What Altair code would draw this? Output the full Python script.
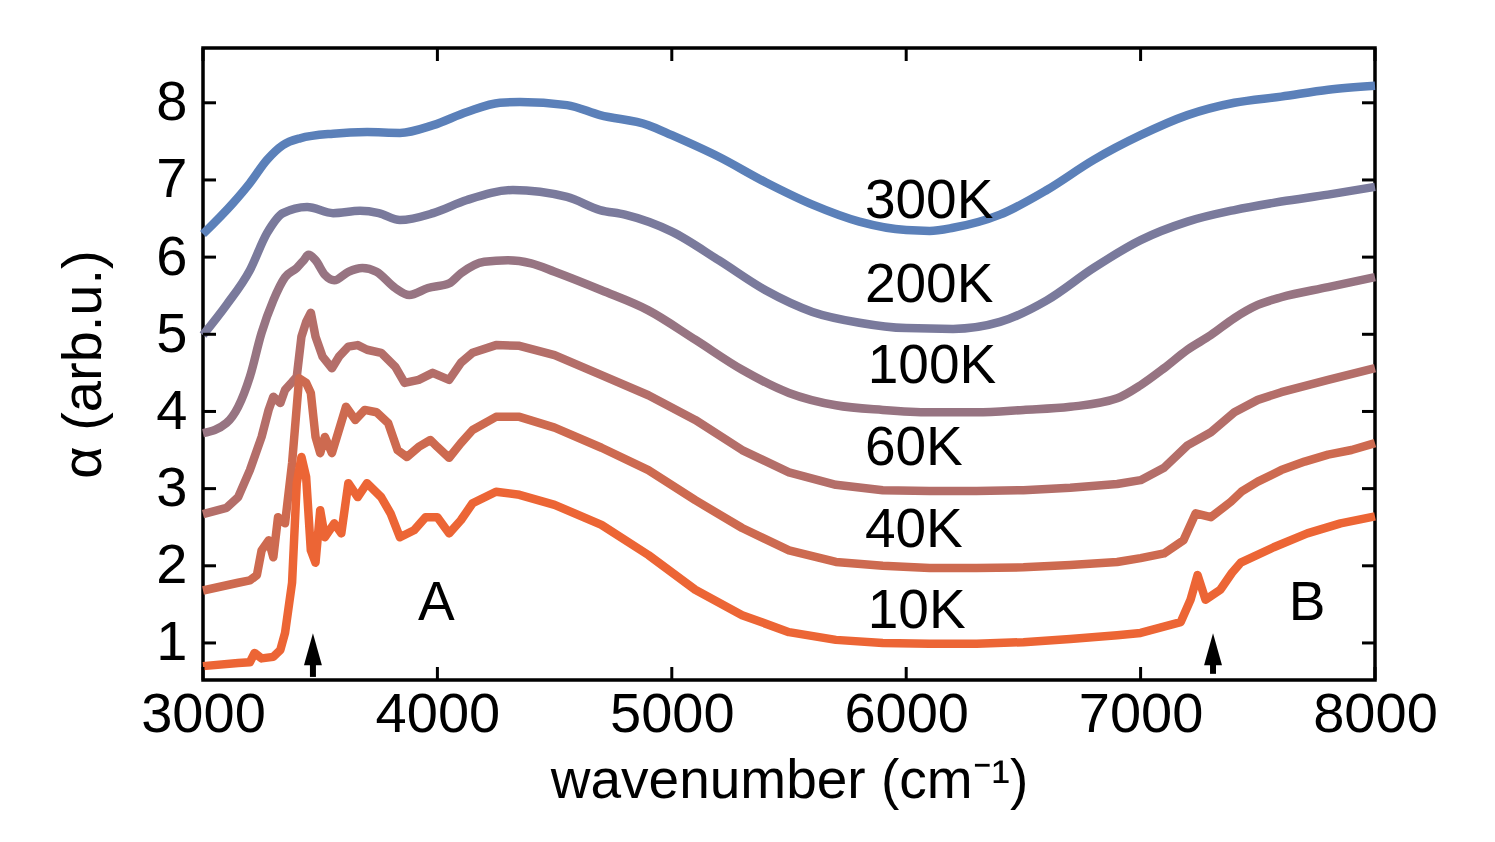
import altair as alt
import pandas as pd

# ---- data ----
series_names = ["300K", "200K", "100K", "60K", "40K", "10K"]
series_colors = ["#5b80b9", "#7a7a9c", "#977482", "#b46e69", "#cd6a50", "#ec6535"]
smooth_series = ["300K", "200K", "100K"]

wn_300 = [3000, 3128, 3200, 3273, 3340, 3414, 3555, 3700, 3840, 3982, 4126, 4267, 4352, 4553, 4694,
          4900, 5000, 5200, 5400, 5600, 5800, 6000, 6100, 6200, 6400, 6600, 6800, 7000, 7200, 7400,
          7600, 7800, 8000]
a_300 = [6.30, 6.70, 6.96, 7.26, 7.45, 7.54, 7.60, 7.62, 7.61, 7.71, 7.88, 8.00, 8.01, 7.97, 7.84,
         7.71, 7.58, 7.30, 6.97, 6.68, 6.46, 6.35, 6.34, 6.38, 6.55, 6.87, 7.26, 7.58, 7.84, 8.00,
         8.08, 8.17, 8.22]

wn_200 = [3000, 3100, 3200, 3273, 3341, 3444, 3555, 3670, 3750, 3840, 3982, 4126, 4322, 4553, 4694,
          4800, 5000, 5200, 5400, 5600, 5800, 6000, 6200, 6400, 6600, 6800, 7000, 7200, 7400, 7600,
          7800, 8000]
a_200 = [4.99, 5.38, 5.83, 6.31, 6.57, 6.65, 6.57, 6.60, 6.57, 6.48, 6.57, 6.74, 6.87, 6.78, 6.61,
         6.55, 6.33, 5.96, 5.57, 5.29, 5.15, 5.08, 5.07, 5.16, 5.44, 5.86, 6.22, 6.46, 6.61, 6.72,
         6.81, 6.91]

wn_100 = [3000, 3100, 3150, 3200, 3250, 3300, 3350, 3400, 3430, 3450, 3480, 3520, 3560, 3620, 3680,
          3740, 3820, 3880, 3960, 4050, 4100, 4200, 4300, 4400, 4500, 4700, 4900, 5100, 5300, 5500,
          5700, 5900, 6100, 6300, 6500, 6700, 6900, 7000, 7100, 7200, 7300, 7400, 7500, 7600, 7800,
          8000]
a_100 = [3.72, 3.85, 4.06, 4.45, 5.02, 5.44, 5.74, 5.86, 5.96, 6.03, 5.96, 5.77, 5.70, 5.81, 5.86,
         5.81, 5.60, 5.51, 5.60, 5.66, 5.79, 5.94, 5.96, 5.92, 5.81, 5.57, 5.31, 4.93, 4.54, 4.24,
         4.08, 4.02, 3.99, 3.99, 4.02, 4.06, 4.17, 4.34, 4.56, 4.80, 4.99, 5.21, 5.38, 5.48, 5.61,
         5.74]

wn_60 = [3000, 3100, 3150, 3200, 3250, 3280, 3300, 3330, 3350, 3380, 3400, 3420, 3440, 3460, 3480,
         3510, 3550, 3580, 3620, 3660, 3700, 3760, 3820, 3860, 3920, 3980, 4050, 4100, 4150, 4250,
         4350, 4500, 4700, 4900, 5100, 5300, 5500, 5700, 5900, 6100, 6300, 6500, 6700, 6900, 7000,
         7100, 7200, 7300, 7400, 7500, 7600, 7800, 8000]
a_60 = [2.67, 2.75, 2.89, 3.24, 3.67, 4.02, 4.19, 4.11, 4.28, 4.38, 4.45, 4.97, 5.16, 5.28, 4.97,
        4.71, 4.56, 4.71, 4.84, 4.86, 4.80, 4.76, 4.58, 4.37, 4.41, 4.50, 4.41, 4.63, 4.76, 4.86,
        4.85, 4.73, 4.47, 4.21, 3.89, 3.50, 3.21, 3.05, 2.98, 2.97, 2.97, 2.98, 3.01, 3.06, 3.11,
        3.27, 3.56, 3.73, 3.99, 4.15, 4.25, 4.41, 4.56]

wn_40 = [3000, 3150, 3200, 3230, 3250, 3280, 3300, 3320, 3350, 3380, 3410, 3440, 3460, 3480, 3500,
         3520, 3550, 3580, 3610, 3650, 3690, 3740, 3790, 3830, 3870, 3920, 3970, 4000, 4050, 4100,
         4150, 4250, 4350, 4500, 4700, 4900, 5100, 5300, 5500, 5700, 5900, 6100, 6300, 6500, 6700,
         6900, 7000, 7100, 7183, 7235, 7300, 7385, 7430, 7500, 7600, 7700, 7800, 7900, 8000]
a_40 = [1.68, 1.78, 1.81, 1.88, 2.20, 2.33, 2.11, 2.63, 2.55, 3.33, 4.43, 4.37, 4.24, 3.67, 3.46,
        3.67, 3.46, 3.76, 4.06, 3.89, 4.02, 3.99, 3.85, 3.50, 3.41, 3.54, 3.63, 3.54, 3.40, 3.59,
        3.76, 3.93, 3.93, 3.79, 3.53, 3.24, 2.85, 2.49, 2.20, 2.05, 2.00, 1.97, 1.97, 1.98, 2.01,
        2.05, 2.10, 2.16, 2.33, 2.68, 2.63, 2.83, 2.96, 3.09, 3.24, 3.35, 3.44, 3.50, 3.59]

wn_10 = [3000, 3150, 3200, 3220, 3250, 3300, 3330, 3350, 3380, 3400, 3420, 3440, 3460, 3480, 3500,
         3520, 3560, 3590, 3620, 3660, 3700, 3760, 3800, 3840, 3900, 3950, 4000, 4050, 4100, 4150,
         4250, 4350, 4500, 4700, 4900, 5100, 5300, 5500, 5700, 5900, 6100, 6300, 6500, 6700, 6900,
         7000, 7171, 7213, 7243, 7277, 7340, 7390, 7427, 7568, 7711, 7853, 8000]
a_10 = [0.70, 0.74, 0.75, 0.87, 0.80, 0.82, 0.91, 1.13, 1.78, 3.07, 3.41, 3.15, 2.20, 2.04, 2.72,
        2.37, 2.55, 2.42, 3.07, 2.89, 3.07, 2.89, 2.68, 2.37, 2.46, 2.63, 2.63, 2.42, 2.59, 2.81,
        2.96, 2.92, 2.79, 2.53, 2.14, 1.69, 1.36, 1.14, 1.04, 1.00, 0.99, 0.99, 1.01, 1.05, 1.10,
        1.13, 1.27, 1.56, 1.88, 1.56, 1.69, 1.91, 2.04, 2.24, 2.42, 2.55, 2.64]

label_x = [5824, 5824, 5836, 5824, 5824, 5836]
label_y = [6.51, 5.42, 4.37, 3.31, 2.24, 1.19]

feature_labels = ["A", "B"]
feature_x = [3995, 7710]
feature_y = [1.30, 1.30]

arrow_x = [3469, 7309]
arrow_shaft_bottom = [0.56, 0.60]
arrow_shaft_top = [0.78, 0.78]
arrow_head_y = [0.92, 0.92]

x_ticks = [3000, 4000, 5000, 6000, 7000, 8000]
y_ticks = [1, 2, 3, 4, 5, 6, 7, 8]
x_domain = [3000, 8000]
y_domain = [0.52, 8.71]

# ---- build tables ----
rows = []
for name, wn, a in [("300K", wn_300, a_300), ("200K", wn_200, a_200), ("100K", wn_100, a_100),
                    ("60K", wn_60, a_60), ("40K", wn_40, a_40), ("10K", wn_10, a_10)]:
    for i, (w, v) in enumerate(zip(wn, a)):
        rows.append({"series": name, "wn": w, "alpha": v, "order": i})
df = pd.DataFrame(rows)
df_smooth = df[df["series"].isin(smooth_series)]
df_rough = df[~df["series"].isin(smooth_series)]

labels_df = pd.DataFrame({"text": series_names, "wn": label_x, "alpha": label_y})
feat_df = pd.DataFrame({"text": feature_labels, "wn": feature_x, "alpha": feature_y})
arrow_df = pd.DataFrame({"wn": arrow_x, "y1": arrow_shaft_bottom, "y2": arrow_shaft_top,
                         "yh": arrow_head_y})
xt_df = pd.DataFrame({"wn": x_ticks})
yt_df = pd.DataFrame({"alpha": y_ticks})

FONT = "Liberation Sans"
W, H = 1172, 632
LW = 8.5

xscale = alt.Scale(domain=x_domain, nice=False, zero=False)
yscale = alt.Scale(domain=y_domain, nice=False, zero=False)

x_enc = alt.X("wn:Q", scale=xscale,
              axis=alt.Axis(title="wavenumber (cm⁻¹)", values=x_ticks, format="d",
                            tickSize=0, labelPadding=7, domain=False, grid=False,
                            labelFlush=False, labelOverlap=False,
                            labelFontSize=56, titleFontSize=55, labelFont=FONT, titleFont=FONT,
                            labelColor="black", titleColor="black", titleFontWeight="normal",
                            titlePadding=12))
y_enc = alt.Y("alpha:Q", scale=yscale,
              axis=alt.Axis(title="α (arb.u.)", values=y_ticks, format="d", tickSize=0,
                            labelPadding=16, labelFlush=False, labelOverlap=False,
                            domain=False, grid=False, labelFontSize=56, titleFontSize=56,
                            labelFont=FONT, titleFont=FONT, labelColor="black",
                            titleColor="black", titleFontWeight="normal", titlePadding=43))

color_enc = alt.Color("series:N", scale=alt.Scale(domain=series_names, range=series_colors),
                      legend=None)

lines_smooth = alt.Chart(df_smooth).mark_line(
    strokeWidth=LW, strokeJoin="round", strokeCap="butt", interpolate="monotone").encode(
    x=x_enc, y=y_enc, color=color_enc, order="order:Q", detail="series:N")

lines_rough = alt.Chart(df_rough).mark_line(
    strokeWidth=LW, strokeJoin="round", strokeCap="butt").encode(
    x=alt.X("wn:Q", scale=xscale), y=alt.Y("alpha:Q", scale=yscale), color=color_enc,
    order="order:Q", detail="series:N")

labels = alt.Chart(labels_df).mark_text(font=FONT, fontSize=55, align="left",
                                        baseline="alphabetic", color="black").encode(
    x=alt.X("wn:Q", scale=xscale), y=alt.Y("alpha:Q", scale=yscale), text="text:N")

feats = alt.Chart(feat_df).mark_text(font=FONT, fontSize=55, align="center",
                                     baseline="alphabetic", color="black").encode(
    x=alt.X("wn:Q", scale=xscale), y=alt.Y("alpha:Q", scale=yscale), text="text:N")

shafts = alt.Chart(arrow_df).mark_rule(strokeWidth=6, color="black").encode(
    x=alt.X("wn:Q", scale=xscale), y=alt.Y("y1:Q", scale=yscale), y2="y2:Q")

heads = alt.Chart(arrow_df).mark_point(shape="M0,-1L0.56,1L-0.56,1Z", size=1024, filled=True,
                                       color="black", opacity=1, strokeWidth=0).encode(
    x=alt.X("wn:Q", scale=xscale), y=alt.Y("yh:Q", scale=yscale))

tick_len = 13
xt_bottom = alt.Chart(xt_df).mark_rule(strokeWidth=3, color="black").encode(
    x=alt.X("wn:Q", scale=xscale), y=alt.value(H), y2=alt.value(H - tick_len))
xt_top = alt.Chart(xt_df).mark_rule(strokeWidth=3, color="black").encode(
    x=alt.X("wn:Q", scale=xscale), y=alt.value(0), y2=alt.value(tick_len))
yt_left = alt.Chart(yt_df).mark_rule(strokeWidth=3, color="black").encode(
    y=alt.Y("alpha:Q", scale=yscale), x=alt.value(0), x2=alt.value(tick_len))
yt_right = alt.Chart(yt_df).mark_rule(strokeWidth=3, color="black").encode(
    y=alt.Y("alpha:Q", scale=yscale), x=alt.value(W), x2=alt.value(W - tick_len))

chart = alt.layer(lines_smooth, lines_rough, labels, feats, shafts, heads,
                  xt_bottom, xt_top, yt_left, yt_right).properties(
    width=W, height=H,
    background="white",
    autosize=alt.AutoSizeParams(type="none"),
    padding={"left": 195, "top": 40, "right": 100, "bottom": 140},
).configure_view(stroke="black", strokeWidth=3.5)

chart.save("out.html", embed_options={"renderer": "svg", "actions": False})
